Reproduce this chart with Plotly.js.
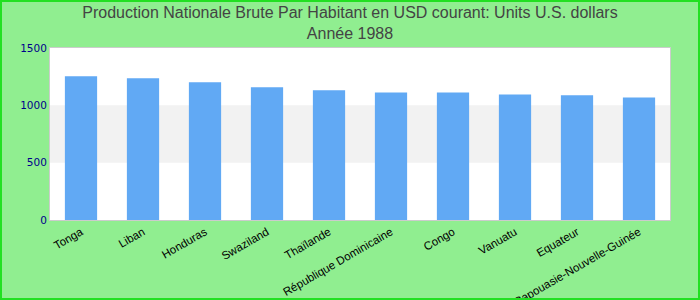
<!DOCTYPE html>
<html><head><meta charset="utf-8">
<script src="https://cdn.plot.ly/plotly-3.0.1.min.js"></script>
<style>body{margin:0;}#wrap{position:relative;width:700px;height:300px;}#frame{position:absolute;left:0;top:0;width:700px;height:300px;box-sizing:border-box;border:2px solid #22e022;pointer-events:none;}</style>
</head><body>
<div id="wrap"><div id="chart" style="width:700px;height:300px;"></div><div id="frame"></div></div>
<script>
const categories = ["Tonga","Liban","Honduras","Swaziland","Thaïlande","République Dominicaine","Congo","Vanuatu","Equateur","Papouasie-Nouvelle-Guinée"];
const values = [1253, 1236, 1201, 1157, 1131, 1113, 1113, 1095, 1087, 1069];
const yTicks = [0, 500, 1000, 1500];

Plotly.newPlot('chart', [{
  type: 'bar', x: categories, y: values,
  marker: {color: '#61a9f4'}, width: 0.52
}], {
  width: 700, height: 300,
  paper_bgcolor: '#90ee90', plot_bgcolor: '#ffffff',
  margin: {l: 50, r: 30, t: 48, b: 80},
  title: {text: 'Production Nationale Brute Par Habitant en USD courant: Units U.S. dollars<br>Année 1988',
    font: {family: 'Liberation Sans, Arial, sans-serif', size: 16, color: '#444444'}, x: 0.5, xanchor: 'center', y: 0.94, yanchor: 'middle'},
  xaxis: {tickangle: -30, tickfont: {family: 'Liberation Sans, Arial, sans-serif', size: 11.5, color: '#000000'},
    showline: true, linecolor: '#cccccc', mirror: true, linewidth: 1},
  yaxis: {range: [0, 1500], tickvals: yTicks, ticktext: yTicks.map(String), showgrid: false, zeroline: false,
    tickfont: {family: 'DejaVu Sans, sans-serif', size: 10.5, color: '#00008b'},
    showline: true, linecolor: '#cccccc', mirror: true, linewidth: 1},
  shapes: [{type: 'rect', xref: 'paper', yref: 'y', x0: 0, x1: 1, y0: 500, y1: 1000,
    fillcolor: '#f2f2f2', line: {width: 0}, layer: 'below'}],
  showlegend: false
}, {displayModeBar: false});
</script>
</body></html>
